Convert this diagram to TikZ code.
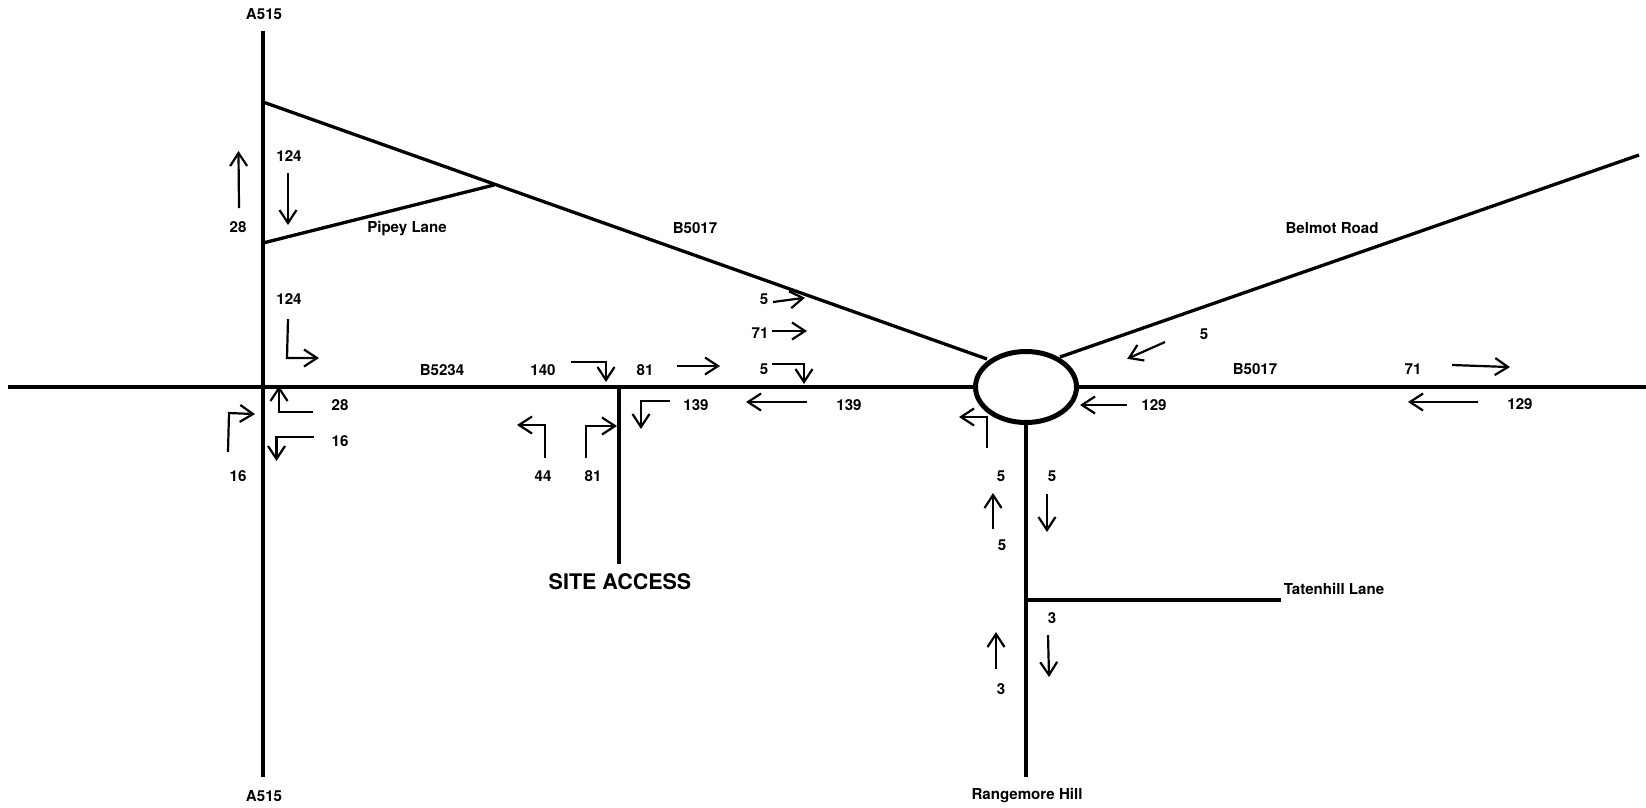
\documentclass[tikz,border=0pt]{standalone}
\usepackage{fontspec}
\setmainfont{TeX Gyre Heros}
\usetikzlibrary{arrows.meta,shapes.geometric}
\tikzset{
  x=1pt,y=-1pt,
  road/.style={line width=4.2pt},
  sideroad/.style={line width=3.3pt},
  flow/.style={line width=2.2pt,shorten >=-2pt,-{Straight Barb[length=13pt,width=17pt,line width=2.2pt]}},
  lbl/.style={font=\fontsize{15.1}{17}\selectfont\bfseries,inner sep=0pt,yshift=-0.5pt},
  biglbl/.style={font=\fontsize{21.5}{24}\selectfont\bfseries,inner sep=0pt,yshift=-0.5pt}
}
\begin{document}
\begin{tikzpicture}
\useasboundingbox[fill=white] (0,0) rectangle (1646,807);
% roads
\draw[road] (263,31) -- (263,777);
\draw[road] (8,387) -- (976,387);
\draw[road] (1076,387) -- (1646,387);
\draw[road] (619,387) -- (619,564);
\draw[road] (1026,423) -- (1026,777);
\draw[sideroad] (1026,600) -- (1281,600);
\draw[sideroad] (263,102) -- (987,359);
\draw[sideroad] (263,243) -- (494,185);
\draw[sideroad] (1060,357) -- (1639,155);
\node[draw,fill=white,line width=5pt,ellipse,minimum width=101pt,minimum height=71pt,inner sep=0pt] (rbt) at (1026,387) {};
% flows
\draw[flow] (239,208) -- (238.5,153);
\draw[flow] (288,173) -- (288,223);
\draw[flow] (288,319) -- (287,358) -- (317,358);
\draw[flow] (228,452) -- (229,413) -- (253,414);
\draw[flow] (313,412) -- (279,412) -- (279,388);
\draw[flow] (314,437) -- (276.5,437) -- (276.5,459);
\draw[flow] (571,362) -- (606,362) -- (606,380);
\draw[flow] (677,366) -- (718,366);
\draw[flow] (670,401) -- (641,401) -- (641,427);
\draw[flow] (545,458) -- (545,425) -- (519,425);
\draw[flow] (586,458) -- (586,426) -- (615,426);
\draw[flow] (773,302) -- (803,298);
\draw[flow] (772,331) -- (805,331);
\draw[flow] (772,364) -- (804,364) -- (804,382);
\draw[flow] (807,402) -- (748,402);
\draw[flow] (987,448) -- (987,417) -- (961,417);
\draw[flow] (1127,405) -- (1082,405);
\draw[flow] (1165,342) -- (1129,358);
\draw[flow] (993,529) -- (993,495);
\draw[flow] (1047,494) -- (1047,530);
\draw[flow] (1452,365) -- (1508,367);
\draw[flow] (1478,402) -- (1410,402);
\draw[flow] (996,669) -- (996,634);
\draw[flow] (1048,635) -- (1049,675);
% labels
\node[lbl] (t1) at (264,14) {A515};
\node[lbl] (t2) at (264,796) {A515};
\node[lbl] (t3) at (289,156) {124};
\node[lbl] (t4) at (238,227) {28};
\node[lbl] (t5) at (407,228) {Pipey Lane};
\node[lbl] (t6) at (695,228) {B5017};
\node[lbl] (t7) at (1332,228) {Belmot Road};
\node[lbl] (t8) at (289,299) {124};
\node[lbl] (t9) at (764,299) {5};
\node[lbl] (t10) at (760,333) {71};
\node[lbl] (t11) at (1204,334) {5};
\node[lbl] (t12) at (442,370) {B5234};
\node[lbl] (t13) at (543,370) {140};
\node[lbl] (t14) at (645,370) {81};
\node[lbl] (t15) at (764,369) {5};
\node[lbl] (t16) at (1255,369) {B5017};
\node[lbl] (t17) at (1413,369) {71};
\node[lbl] (t18) at (340,405) {28};
\node[lbl] (t19) at (696,405) {139};
\node[lbl] (t20) at (849,405) {139};
\node[lbl] (t21) at (1154,405) {129};
\node[lbl] (t22) at (1520,404) {129};
\node[lbl] (t23) at (340,441) {16};
\node[lbl] (t24) at (238,476) {16};
\node[lbl] (t25) at (543,476) {44};
\node[lbl] (t26) at (593,476) {81};
\node[lbl] (t27) at (1001,476) {5};
\node[lbl] (t28) at (1052,476) {5};
\node[lbl] (t29) at (1002,545) {5};
\node[biglbl] (t30) at (620,581) {SITE ACCESS};
\node[lbl] (t31) at (1334,588) {Tatenhill Lane};
\node[lbl] (t32) at (1052,618) {3};
\node[lbl] (t33) at (1001,689) {3};
\node[lbl] (t34) at (1027,795) {Rangemore Hill};
\end{tikzpicture}
\end{document}
